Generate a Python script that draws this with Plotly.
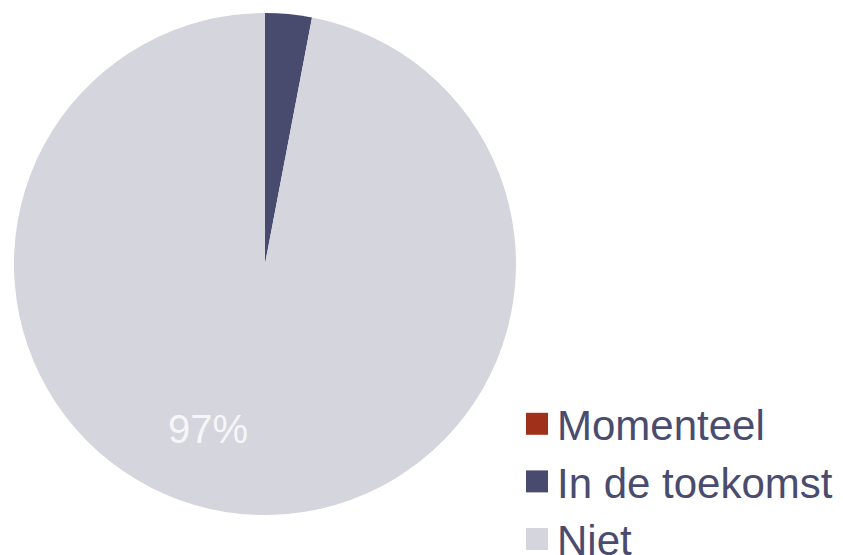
import plotly.graph_objs as go

# Pie data
labels = ['Momenteel', 'In de toekomst', 'Niet']
values = [0, 3, 97]
colors = ['#a0301a', '#494b6e', '#d4d5dd']

W, H = 843, 555

fig = go.Figure(data=[go.Pie(
    labels=labels,
    values=values,
    marker=dict(colors=colors, line=dict(width=0)),
    sort=False,
    direction='clockwise',
    rotation=0,
    textinfo='none',
    hoverinfo='label+percent',
    domain=dict(x=[14 / W, 516 / W], y=[1 - 515 / H, 1 - 13 / H]),
)])

# only the big slice carries a label
total = sum(values)
fig.add_annotation(
    x=208 / W, y=1 - 429 / H, xref='paper', yref='paper',
    xanchor='center', yanchor='middle',
    text=f'{round(values[2] / total * 100)}%',
    showarrow=False,
    font=dict(family='Liberation Sans, Arial', size=40, color='#f6f6f8'),
)

fig.update_layout(
    width=W, height=H,
    margin=dict(l=0, r=0, t=0, b=0, autoexpand=False),
    paper_bgcolor='white',
    plot_bgcolor='white',
    showlegend=True,
    legend=dict(
        x=517 / W, y=1 - 390 / H, xanchor='left', yanchor='top',
        font=dict(family='Liberation Sans, Arial', size=42, color='#4a4c6f'),
        bgcolor='rgba(0,0,0,0)',
    ),
)

# no page margin; bigger legend swatches, like the original
post = (
    "document.body.style.margin='0';"
    "document.querySelectorAll('path.legendpie').forEach("
    "function(p){p.setAttribute('d','M11,11H-11V-11H11Z');});"
)
fig.write_html("out.html", post_script=post, config={'displayModeBar': False})
